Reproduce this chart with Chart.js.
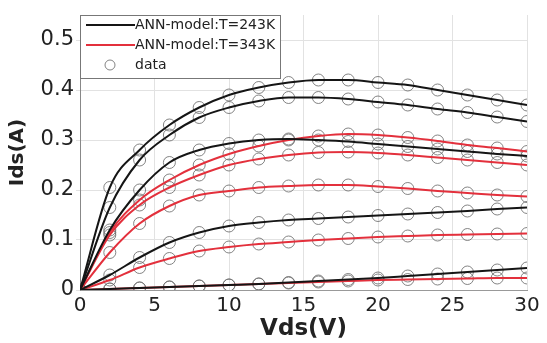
<!DOCTYPE html>
<html>
<head>
<meta charset="utf-8">
<script src="https://cdn.jsdelivr.net/npm/chart.js@4"></script>
<style>
  html, body { margin: 0; padding: 0; background: #fff; }
  #wrap { width: 547px; height: 343px; }
</style>
</head>
<body>
<div id="wrap"><canvas id="Canvas" width="547" height="343"></canvas></div>
<script>
// Vds sweep (V)
const vds = [0, 2, 4, 6, 8, 10, 12, 14, 16, 18, 20, 22, 24, 26, 28, 30];
const yTicks = [0, 0.1, 0.2, 0.3, 0.4, 0.5];

// T = 243K curves (Ids in A)
const cold1 = [0, 0.205, 0.28, 0.33, 0.365, 0.39, 0.405, 0.415, 0.42, 0.42, 0.415, 0.41, 0.40, 0.39, 0.38, 0.37];
const cold2 = [0, 0.165, 0.26, 0.31, 0.345, 0.365, 0.378, 0.385, 0.385, 0.382, 0.376, 0.37, 0.362, 0.355, 0.346, 0.337];
const cold3 = [0, 0.12, 0.20, 0.255, 0.28, 0.293, 0.30, 0.302, 0.30, 0.297, 0.292, 0.287, 0.282, 0.277, 0.272, 0.268];
const cold4 = [0, 0.03, 0.065, 0.095, 0.115, 0.128, 0.135, 0.14, 0.143, 0.146, 0.149, 0.152, 0.155, 0.158, 0.162, 0.165];
const cold5 = [0, 0.002, 0.004, 0.006, 0.008, 0.01, 0.012, 0.015, 0.018, 0.021, 0.024, 0.028, 0.032, 0.036, 0.04, 0.044];

// T = 343K curves (Ids in A)
const hot1 = [0, 0.115, 0.18, 0.22, 0.25, 0.272, 0.288, 0.30, 0.308, 0.312, 0.31, 0.305, 0.298, 0.29, 0.284, 0.277];
const hot2 = [0, 0.11, 0.17, 0.205, 0.23, 0.25, 0.262, 0.27, 0.275, 0.276, 0.274, 0.27, 0.265, 0.26, 0.255, 0.25];
const hot3 = [0, 0.075, 0.133, 0.168, 0.19, 0.198, 0.205, 0.208, 0.21, 0.21, 0.207, 0.203, 0.198, 0.194, 0.19, 0.187];
const hot4 = [0, 0.02, 0.045, 0.063, 0.078, 0.086, 0.092, 0.096, 0.10, 0.103, 0.106, 0.108, 0.11, 0.111, 0.112, 0.113];
const hot5 = [0, 0.002, 0.004, 0.006, 0.008, 0.01, 0.012, 0.014, 0.016, 0.018, 0.02, 0.021, 0.022, 0.023, 0.024, 0.024];

const coldSet = [cold1, cold2, cold3, cold4, cold5];
const hotSet = [hot1, hot2, hot3, hot4, hot5];

const BLACK = "#151515";
const RED = "#e3303c";
const FONT = "'DejaVu Sans', Arial, sans-serif";

function lineSet(vals, color) {
  return {
    type: "line",
    data: vds.map((v, i) => ({ x: v, y: vals[i] })),
    borderColor: color,
    borderWidth: 2,
    pointRadius: 0,
    cubicInterpolationMode: "monotone",
    fill: false,
    order: 1
  };
}

const datasets = [];
coldSet.forEach(c => datasets.push(lineSet(c, BLACK)));
hotSet.forEach(c => datasets.push(lineSet(c, RED)));

const pts = [];
coldSet.concat(hotSet).forEach(c => vds.forEach((v, i) => pts.push({ x: v, y: c[i] })));
datasets.push({
  type: "scatter",
  data: pts,
  pointStyle: "circle",
  pointRadius: 6,
  pointBorderWidth: 1,
  pointBorderColor: "rgba(110,110,110,0.85)",
  pointBackgroundColor: "rgba(0,0,0,0)",
  order: 2
});

// legend box drawn inside plot (top-left)
const boxLegend = {
  id: "boxLegend",
  afterDraw(chart) {
    const c = chart.ctx, a = chart.chartArea;
    const x0 = a.left, y0 = a.top, w = 200, h = 63;
    c.save();
    c.fillStyle = "#fff";
    c.fillRect(x0, y0, w, h);
    c.strokeStyle = "#777";
    c.lineWidth = 1;
    c.strokeRect(x0 + 0.5, y0 + 0.5, w, h);
    c.font = "14px " + FONT;
    c.textBaseline = "middle";
    const rows = [
      { y: y0 + 10, col: BLACK, txt: "ANN-model:T=243K" },
      { y: y0 + 30, col: RED, txt: "ANN-model:T=343K" }
    ];
    rows.forEach(r => {
      c.strokeStyle = r.col;
      c.lineWidth = 2;
      c.beginPath();
      c.moveTo(x0 + 6, r.y);
      c.lineTo(x0 + 55, r.y);
      c.stroke();
      c.fillStyle = "#222";
      c.fillText(r.txt, x0 + 55, r.y);
    });
    c.strokeStyle = "rgba(110,110,110,0.85)";
    c.lineWidth = 1;
    c.beginPath();
    c.arc(x0 + 30, y0 + 50, 5, 0, Math.PI * 2);
    c.stroke();
    c.fillStyle = "#222";
    c.fillText("data", x0 + 55, y0 + 50);
    c.restore();
  }
};

const ctx = document.getElementById("Canvas").getContext("2d");
const chart = new Chart(ctx, {
  data: { datasets: datasets },
  options: {
    responsive: false,
    animation: false,
    layout: { padding: { top: 15, right: 20, left: 0, bottom: 0 } },
    plugins: {
      legend: { display: false },
      tooltip: { enabled: false }
    },
    scales: {
      x: {
        type: "linear",
        min: 0,
        max: 30,
        ticks: {
          stepSize: 5,
          color: "#222",
          padding: 4,
          font: { family: FONT, size: 20 }
        },
        grid: { color: "#e2e2e2", drawTicks: false },
        border: { color: "#999" },
        title: {
          display: true,
          text: "Vds(V)",
          color: "#222",
          padding: { top: 0, bottom: 0 },
          font: { family: FONT, size: 23, weight: "bold" }
        },
        afterFit(s) { s.height = 53; }
      },
      y: {
        type: "linear",
        min: 0,
        max: 0.55,
        afterBuildTicks(s) { s.ticks = yTicks.map(v => ({ value: v })); },
        ticks: {
          color: "#222",
          padding: 2,
          font: { family: FONT, size: 21 },
          callback: v => v === 0 ? "0" : v.toFixed(1)
        },
        grid: { color: "#e2e2e2", drawTicks: true, tickLength: 4 },
        border: { color: "#888" },
        title: {
          display: true,
          text: "Ids(A)",
          color: "#222",
          padding: { top: 6, bottom: 0 },
          font: { family: FONT, size: 20, weight: "bold" }
        },
        afterFit(s) { s.width = 80; }
      }
    }
  },
  plugins: [boxLegend]
});
</script>
</body>
</html>
